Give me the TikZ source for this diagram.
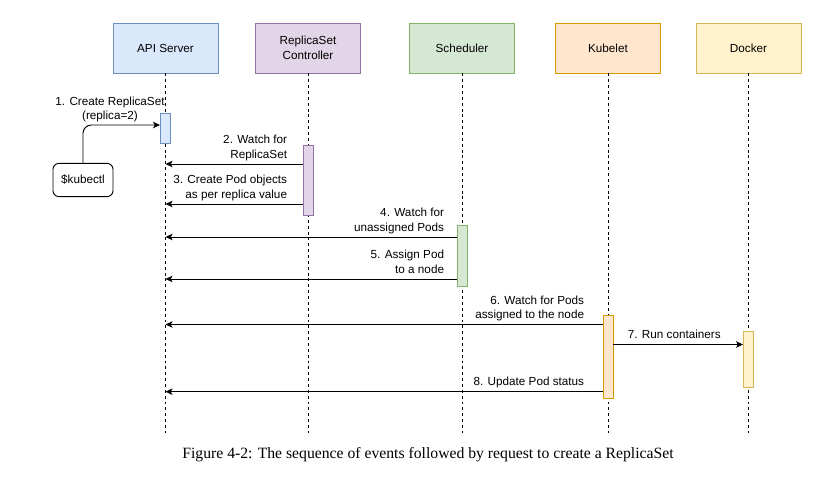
\documentclass[tikz,border=0pt]{standalone}
\usepackage{fontspec}
\setmainfont{Liberation Sans}
\newfontfamily\capfont{Liberation Serif}
\usepackage{tikz}
\usetikzlibrary{arrows.meta}
\definecolor{apifill}{HTML}{DAE8FC}
\definecolor{apiline}{HTML}{6C8EBF}
\definecolor{rscfill}{HTML}{E1D5E7}
\definecolor{rscline}{HTML}{9673A6}
\definecolor{schfill}{HTML}{D5E8D4}
\definecolor{schline}{HTML}{82B366}
\definecolor{kubfill}{HTML}{FFE6CC}
\definecolor{kubline}{HTML}{D79B00}
\definecolor{dckfill}{HTML}{FFF2CC}
\definecolor{dckline}{HTML}{D6B656}

\begin{document}
\begin{tikzpicture}[x=0.03cm,y=-0.03cm,
    every node/.style={font=\fontsize{10}{12.3}\selectfont},
    head/.style={draw, line width=0.8pt, minimum width=3.15cm, minimum height=1.5cm, align=center},
    act/.style={draw, line width=0.8pt, inner sep=0pt, minimum width=0.3cm},
    lifeline/.style={line width=0.7pt, dash pattern=on 2.5pt off 2.5pt},
    msg/.style={line width=0.8pt, -{Stealth[length=6pt,width=5.5pt,inset=1.5pt]}},
    lbl/.style={align=right, anchor=south east, inner sep=2pt, text depth=2.5pt}]
        \useasboundingbox (0,0) rectangle (832,478);
        \node[head, fill=apifill, draw=apiline] (api) at (165.5,48) {API Server};
        \node[head, fill=rscfill, draw=rscline] (rsc) at (308,48) {ReplicaSet\\Controller};
        \node[head, fill=schfill, draw=schline] (sched) at (462,48) {Scheduler};
        \node[head, fill=kubfill, draw=kubline] (kube) at (608,48) {Kubelet};
        \node[head, fill=dckfill, draw=dckline] (dock) at (748.5,48) {Docker};
        % lifelines
        \coordinate (bottom) at (0,433);
        \foreach \n in {api,rsc,sched,kube,dock}
            \draw[lifeline] (\n.south) -- (\n.south |- bottom);
        \node[act, fill=apifill, draw=apiline, minimum height=0.9cm] (apiact) at (api |- 0,128) {};
        \node[act, fill=rscfill, draw=rscline, minimum height=2.1cm] (rscact) at (rsc |- 0,180) {};
        \node[act, fill=schfill, draw=schline, minimum height=1.83cm] (schact) at (sched |- 0,255.5) {};
        \node[act, fill=kubfill, draw=kubline, minimum height=2.49cm] (kubact) at (kube |- 0,357) {};
        \node[act, fill=dckfill, draw=dckline, minimum height=1.67cm] (dckact) at (dock |- 0,359.5) {};
        \node[draw, line width=0.8pt, rounded corners=0.18cm, minimum width=1.8cm, minimum height=1cm] (kubectl) at (83,180) {\$kubectl};
        % messages
        \draw[msg, rounded corners=0.25cm] (kubectl.north) |- ([yshift=0.09cm]apiact.west);
        \node[align=center, anchor=south, inner sep=2pt, text depth=2.5pt] (l1) at (110,125) {1. Create ReplicaSet\\(replica=2)};
        \draw[msg] (rscact.west |- 0,164) -- node[lbl, pos=0, xshift=-0.38cm] {2. Watch for\\ReplicaSet} (api |- 0,164);
        \draw[msg] (rscact.west |- 0,204) -- node[lbl, pos=0, xshift=-0.38cm] {3. Create Pod objects\\as per replica value} (api |- 0,204);
        \draw[msg] (schact.west |- 0,237) -- node[lbl, pos=0, xshift=-0.29cm] {4. Watch for\\unassigned Pods} (api |- 0,237);
        \draw[msg] (schact.west |- 0,279) -- node[lbl, pos=0, xshift=-0.29cm] {5. Assign Pod\\to a node} (api |- 0,279);
        \draw[msg] (kubact.west |- 0,324.5) -- node[lbl, pos=0, xshift=-0.47cm] {6. Watch for Pods\\assigned to the node} (api |- 0,324.5);
        \draw[msg] (kubact.east |- 0,344.5) -- node[midway, anchor=south, inner sep=2pt, text depth=2.5pt, xshift=-0.12cm] {7. Run containers} (dckact.west |- 0,344.5);
        \draw[msg] (kubact.west |- 0,391.7) -- node[lbl, pos=0, xshift=-0.47cm] {8. Update Pod status} (api |- 0,391.7);
        \node[font=\capfont\fontsize{13.4}{16}\selectfont] (caption) at (428,455) {Figure 4-2: The sequence of events followed by request to create a ReplicaSet};
\end{tikzpicture}
\end{document}
